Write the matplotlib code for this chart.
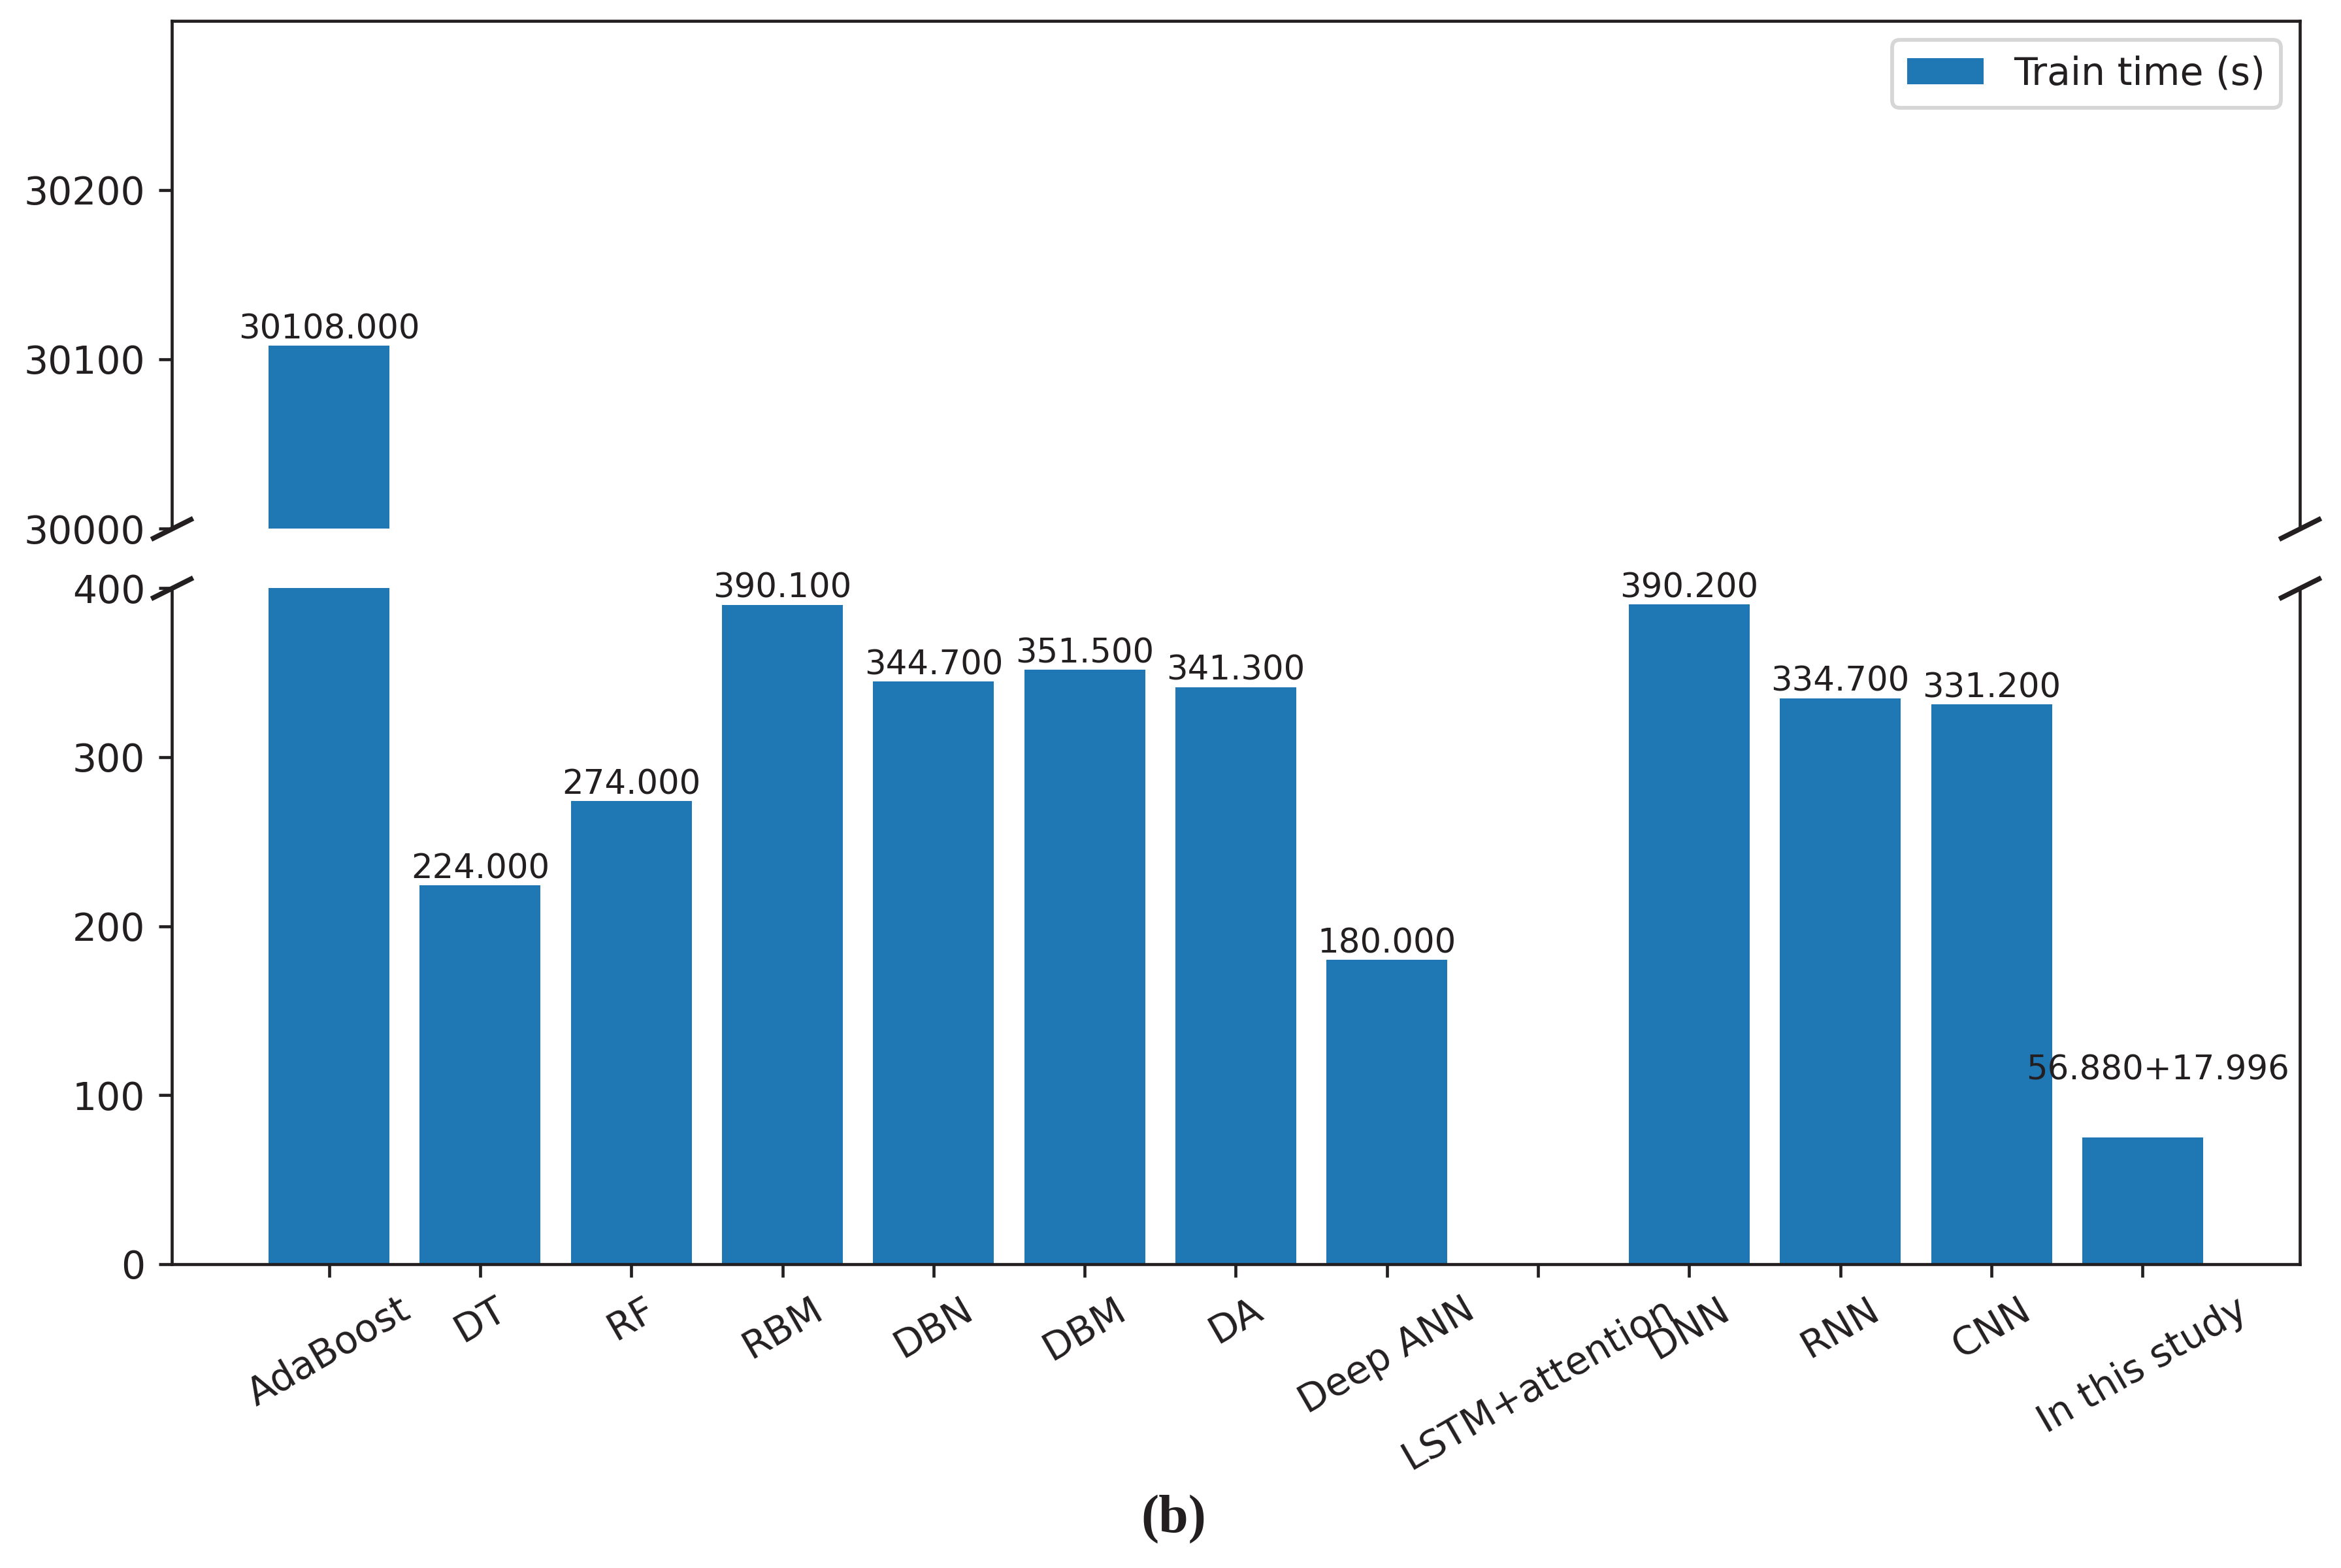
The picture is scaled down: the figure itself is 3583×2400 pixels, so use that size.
import matplotlib
matplotlib.use("Agg")
import matplotlib.pyplot as plt
import numpy as np

###### DATA ######
models = ['AdaBoost', 'DT', 'RF', 'RBM', 'DBN', 'DBM', 'DA', 'Deep ANN',
          'LSTM+attention', 'DNN', 'RNN', 'CNN', 'In this study']
train_time = [30108.0, 224.0, 274.0, 390.1, 344.7, 351.5, 341.3, 180.0,
              np.nan, 390.2, 334.7, 331.2, 56.880 + 17.996]
study_label = '56.880+17.996'
study_label_y = 105

BLUE = '#1f77b4'
INK = '#231f20'

plt.rcParams['font.family'] = 'DejaVu Sans'
plt.rcParams['text.color'] = INK
plt.rcParams['axes.edgecolor'] = INK
plt.rcParams['xtick.color'] = INK
plt.rcParams['ytick.color'] = INK
plt.rcParams['axes.linewidth'] = 0.8

DPI = 420
fig = plt.figure(figsize=(3583 / DPI, 2400 / DPI), dpi=DPI)
ax_top = fig.add_axes([0.0734, 0.6629, 0.9090, 0.3238])
ax_bot = fig.add_axes([0.0734, 0.19375, 0.9090, 0.43125])

x = np.arange(len(models))
for ax in (ax_top, ax_bot):
    ax.bar(x, train_time, width=0.8, color=BLUE, label='Train time (s)')
    ax.set_xlim(-1.04, len(models) - 1 + 1.04)

ax_top.set_ylim(30000, 30300)
ax_bot.set_ylim(0, 400)
ax_top.set_yticks([30000, 30100, 30200])
ax_bot.set_yticks([0, 100, 200, 300, 400])

# hide the spines between the two panels
ax_top.spines['bottom'].set_visible(False)
ax_bot.spines['top'].set_visible(False)
ax_top.tick_params(axis='x', which='both', bottom=False, labelbottom=False)
ax_top.tick_params(axis='y', labelsize=10)
ax_bot.tick_params(axis='y', labelsize=10)

ax_bot.set_xticks(x)
ax_bot.set_xticklabels(models, rotation=30, ha='center', fontsize=10)

# value labels
for i, v in enumerate(train_time):
    if np.isnan(v):
        continue
    if i == len(models) - 1:
        ax_bot.text(i + 0.1, study_label_y, study_label, ha='center', va='bottom', fontsize=8.8)
    elif v > 400:
        ax_top.text(i, v, f'{v:.3f}', ha='center', va='bottom', fontsize=8.8)
    else:
        ax_bot.text(i, v, f'{v:.3f}', ha='center', va='bottom', fontsize=8.8)

# break marks
d = 0.5
kw = dict(marker=[(-1, -d), (1, d)], markersize=11, linestyle='none',
          color=INK, mec=INK, mew=1.3, clip_on=False)
ax_top.plot([0, 1], [0, 0], transform=ax_top.transAxes, **kw)
ax_bot.plot([0, 1], [1, 1], transform=ax_bot.transAxes, **kw)

ax_top.legend(loc='upper right', fontsize=10)

fig.text(0.5013, 0.031, '(b)', ha='center', va='center', fontsize=14,
         fontweight='bold', family='Liberation Serif')

fig.savefig('out.png', dpi=DPI)
